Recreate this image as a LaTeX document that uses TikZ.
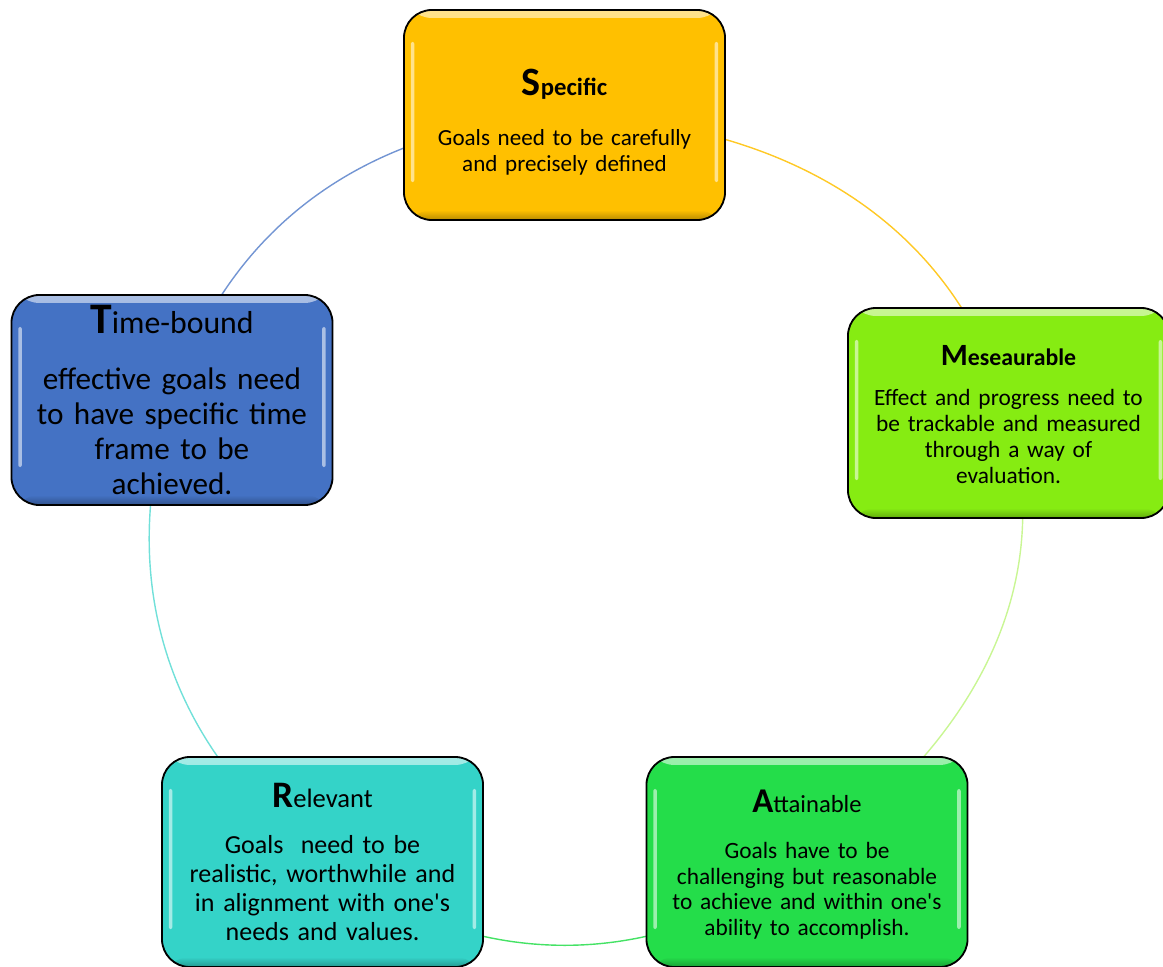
\documentclass[tikz,border=0pt]{standalone}
\usepackage{fontspec}
\setmainfont{Carlito}[Ligatures=TeXOff]
\usetikzlibrary{backgrounds}

\definecolor{specgold}{RGB}{255,192,0}
\definecolor{measlime}{RGB}{134,236,18}
\definecolor{attgreen}{RGB}{36,221,74}
\definecolor{relteal}{RGB}{52,211,200}
\definecolor{timeblue}{RGB}{68,114,196}

\begin{document}
\begin{tikzpicture}[
        x=0.025cm, y=0.025cm, % pixel grid
        goalbox/.style={draw=black, line width=1.3pt, fill=#1, rounded corners=0.7cm,
            minimum width=8.025cm, minimum height=5.25cm, text width=7.7cm,
            align=center, inner sep=0pt,
            path picture={
                \shade[top color=white!55!#1, bottom color=#1]
                    (path picture bounding box.north west) rectangle
                    ([yshift=-0.2cm]path picture bounding box.north east);
                \shade[top color=#1, bottom color=#1!72!black]
                    ([yshift=0.25cm]path picture bounding box.south west) rectangle
                    (path picture bounding box.south east);
                \fill[white, opacity=.55, rounded corners=0.05cm]
                    ([xshift=0.17cm, yshift=-0.8cm]path picture bounding box.north west)
                    rectangle ++(0.09cm,-3.5cm);
                \fill[white, opacity=.55, rounded corners=0.05cm]
                    ([xshift=-0.17cm, yshift=-0.8cm]path picture bounding box.north east)
                    rectangle ++(-0.09cm,-3.5cm);
            }}, % glossy box
        ringarc/.style={line width=1pt, bend left=36}, % arcs of the ring
    ]
    \useasboundingbox (0,0) rectangle (1163,-966);

    \node[goalbox=specgold, font=\fontsize{16.4}{19.1}\selectfont] (spec) at (564.5,-115)
        {{\bfseries\fontsize{28.6}{28.6}\selectfont\rule{0pt}{29pt}S}{\bfseries\fontsize{17.6}{17.6}\selectfont pecific}\\[16.5pt]
         Goals need to be carefully\\ and precisely defined};
    \node[goalbox=measlime, font=\fontsize{16.6}{18.5}\selectfont] (meas) at (1008.5,-413)
        {{\bfseries\fontsize{22}{22}\selectfont\rule{0pt}{16pt}M}{\bfseries\fontsize{16.9}{16.9}\selectfont eseaurable}\\[10pt]
         Effect and progress need to\\ be trackable and measured\\ through a way of\\ evaluation.};
    \node[goalbox=attgreen, font=\fontsize{16.6}{18.3}\selectfont] (att) at (807,-862)
        {{\bfseries\fontsize{24.7}{24.7}\selectfont\rule{0pt}{19.5pt}A}{\fontsize{17.5}{17.5}\selectfont ttainable}\\[14.5pt]
         Goals have to be\\ challenging but reasonable\\ to achieve and within one's\\ ability to accomplish.};
    \node[goalbox=relteal, font=\fontsize{18.5}{20.6}\selectfont] (rel) at (322.5,-862)
        {{\bfseries\fontsize{26.6}{26.6}\selectfont R}{\fontsize{18.9}{18.9}\selectfont elevant}\\[12pt]
         Goals~ need to be\\ realistic, worthwhile and\\ in alignment with one's\\ needs and values.};
    \node[goalbox=timeblue, font=\fontsize{22.2}{24.9}\selectfont] (time) at (172,-400)
        {{\bfseries\fontsize{31}{31}\selectfont T}{\fontsize{22.6}{22.6}\selectfont ime-bound}\\[14.5pt]
         effective goals need\\ to have specific time\\ frame to be\\ achieved.};

    \begin{scope}[on background layer]
        \draw[ringarc, draw=specgold!85!white, out=32, in=140, relative] (spec.center) to (meas.center);
        \draw[ringarc, draw=measlime!45!white, out=40, in=150, relative] (meas.center) to (att.center);
        \draw[ringarc, draw=attgreen!85!white] (att.center) to (rel.center);
        \draw[ringarc, draw=relteal!70!white] (rel.center) to (time.center);
        \draw[ringarc, draw=timeblue!75!white, out=36, in=147, relative] (time.center) to (spec.center);
    \end{scope}
\end{tikzpicture}
\end{document}
